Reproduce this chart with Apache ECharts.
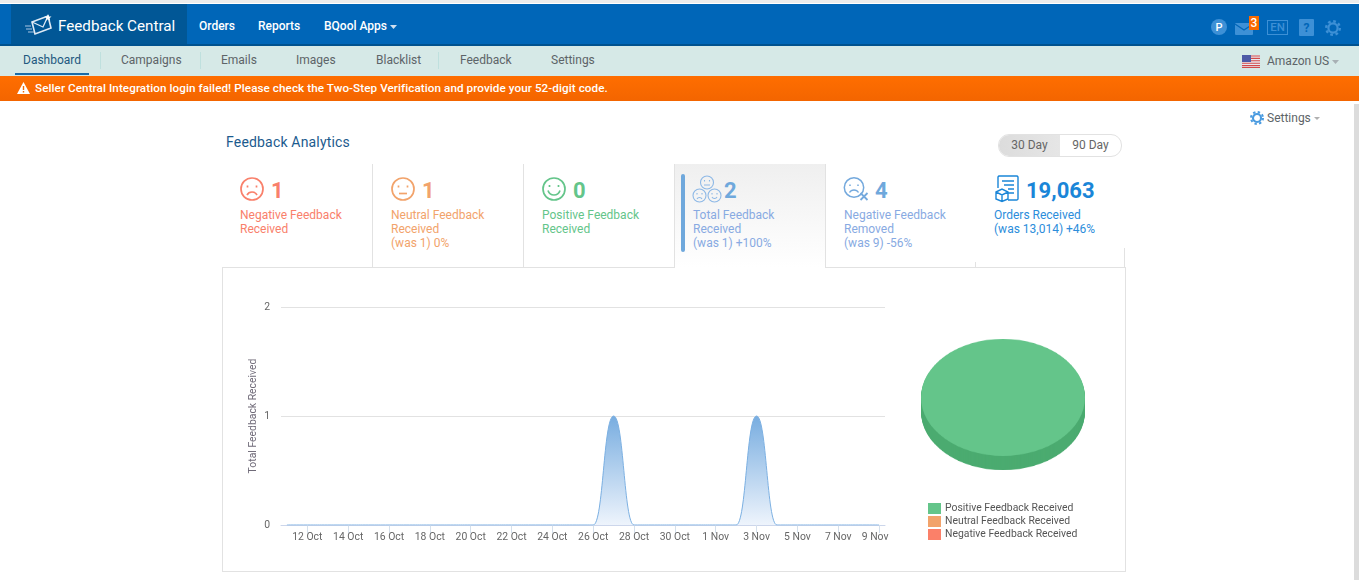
<!DOCTYPE html>
<html><head><meta charset="utf-8">
<script src="https://cdn.jsdelivr.net/npm/echarts@6/dist/echarts.min.js"></script>
<style>
html,body{margin:0;padding:0;width:1359px;height:580px;overflow:hidden;background:#fff;font-family:Roboto,sans-serif;}
.a{position:absolute;white-space:nowrap;}
#chart{position:absolute;left:0;top:0;width:1359px;height:580px;}
#pie{position:absolute;left:913px;top:336px;width:180px;height:200px;transform-origin:0 0;transform:scaleY(0.7134);}
.nav{color:#fff;font-size:12px;font-weight:500;top:19px;line-height:15px;}
.sub{color:#5d6468;font-size:12px;top:53px;line-height:14px;}
.sep{position:absolute;width:1px;top:52px;height:17px;background:#bfe0de;}
.vl{position:absolute;width:1px;background:#e2e2e2;}
.hl{position:absolute;height:1px;background:#e2e2e2;}
.num{font-size:22px;font-weight:700;top:178px;line-height:26px;}
.lab{font-size:12px;line-height:14px;top:208px;white-space:nowrap;position:absolute;}
svg{position:absolute;overflow:visible;}
</style></head><body>
<div class="a" style="left:0;top:0;width:1359px;height:3px;background:#ececec"></div>
<div class="a" style="left:0;top:4px;width:1359px;height:40px;background:#0066b8"></div>
<div class="a" style="left:0;top:44px;width:1359px;height:2px;background:#00528f"></div>
<div class="a" style="left:0;top:46px;width:1359px;height:30px;background:#d6e9e7"></div>
<div class="a" style="left:11px;top:4px;width:176px;height:40px;background:#015796"></div>
<svg style="left:24px;top:13px" width="30" height="24" viewBox="0 0 30 24"><path d="M8 9 L24 3 L27 15 L11 21 Z" fill="none" stroke="#dfeaf5" stroke-width="1.6"/><path d="M8 9 L19 14 L24 3" fill="none" stroke="#dfeaf5" stroke-width="1.3"/><path d="M1 13h6M2 16h6M4 19h6" stroke="#a9c6e2" stroke-width="1.2"/><path d="M24 1 l1 2.4 2.5.2-2 1.6.7 2.5-2.2-1.4-2.2 1.4.7-2.5-2-1.6 2.5-.2z" fill="#fff"/></svg>
<div class="a" style="left:58px;top:16px;color:#fff;font-size:15.2px;line-height:20px;">Feedback Central</div>
<div class="a nav" style="left:199px">Orders</div>
<div class="a nav" style="left:258px">Reports</div>
<div class="a nav" style="left:324px">BQool Apps</div>
<svg style="left:390px;top:25px" width="7" height="4"><path d="M0 0h7L3.5 4z" fill="#cfe0f0"/></svg>
<svg style="left:1211px;top:19px" width="16" height="16"><circle cx="8" cy="8" r="8" fill="#3d90d6"/><text x="8" y="12" font-size="11" font-weight="500" font-family="Roboto" fill="#fff" text-anchor="middle">P</text></svg>
<svg style="left:1235px;top:23px" width="18" height="12"><rect width="18" height="12" rx="1" fill="#3d90d6"/><path d="M0 1 L9 7 L18 1" fill="none" stroke="#0066b8" stroke-width="1.2"/></svg>
<div class="a" style="left:1249px;top:16px;width:10px;height:14px;background:#f96a00;color:#fff;font-size:12px;line-height:14px;text-align:center;font-weight:500;">3</div>
<div class="a" style="left:1267px;top:20px;width:19px;height:13px;border:1px solid #3d90d6;color:#3d90d6;font-size:11.5px;line-height:13px;text-align:center;font-weight:500;">EN</div>
<svg style="left:1299px;top:19px" width="15" height="17"><rect width="15" height="17" rx="1" fill="#3d90d6"/><text x="7.5" y="13" font-size="12" font-weight="700" font-family="Roboto" fill="#0066b8" text-anchor="middle">?</text></svg>
<svg style="left:1325px;top:20px" width="16" height="16" viewBox="0 0 16 16"><circle cx="8" cy="8" r="4.6" fill="none" stroke="#3d90d6" stroke-width="2.2"/><circle cx="8" cy="8" r="6.8" fill="none" stroke="#3d90d6" stroke-width="2.4" stroke-dasharray="2.7 2.64"/></svg>

<div class="a sub" style="left:23px;color:#22587f">Dashboard</div>
<div class="a" style="left:15px;top:73px;width:74px;height:2px;background:#1a6ba8"></div>
<div class="sep" style="left:100px"></div>
<div class="a sub" style="left:121px">Campaigns</div>
<div class="sep" style="left:200px"></div>
<div class="a sub" style="left:221px">Emails</div>
<div class="a sub" style="left:296px">Images</div>
<div class="a sub" style="left:376px">Blacklist</div>
<div class="sep" style="left:438px"></div>
<div class="a sub" style="left:460px">Feedback</div>
<div class="a sub" style="left:551px">Settings</div>
<svg style="left:1242px;top:55px" width="18" height="13"><rect width="18" height="13" fill="#e8e8ee"/><path d="M0 1h18M0 3.4h18M0 5.8h18M0 8.2h18M0 10.6h18M0 12.5h18" stroke="#d24a4a" stroke-width="1.1"/><rect width="9" height="7" fill="#4d5aa6"/></svg>
<div class="a sub" style="left:1267px;top:54px">Amazon US</div>
<svg style="left:1332px;top:60px" width="7" height="4"><path d="M0 0h7L3.5 4z" fill="#a8b0b4"/></svg>

<div class="a" style="left:0;top:76px;width:1359px;height:25px;background:linear-gradient(#ff6e00,#f36500)"></div>
<svg style="left:17px;top:82px" width="13" height="12"><path d="M6.5 0L13 12H0z" fill="#fff"/><path d="M6.5 4v4M6.5 9v1.5" stroke="#f36a00" stroke-width="1.4"/></svg>
<div class="a" style="left:35px;top:81px;color:#fff;font-size:11.7px;font-weight:500;line-height:15px;letter-spacing:.065px;">Seller Central Integration login failed! Please check the Two-Step Verification and provide your 52-digit code.</div>

<div class="a" style="left:1354px;top:104px;width:5px;height:476px;background:#dcdcdc"></div>
<svg style="left:1250px;top:111px" width="14" height="14" viewBox="0 0 16 16"><circle cx="8" cy="8" r="4.6" fill="none" stroke="#4a9be0" stroke-width="2.4"/><circle cx="8" cy="8" r="6.8" fill="none" stroke="#4a9be0" stroke-width="2.4" stroke-dasharray="2.7 2.64"/></svg>
<div class="a sub" style="left:1267px;top:111px">Settings</div>
<svg style="left:1314px;top:117px" width="6" height="3"><path d="M0 0h6L3 3z" fill="#b0b0b0"/></svg>

<div class="a" style="left:226px;top:134px;color:#1c5b8e;font-size:14px;line-height:17px;letter-spacing:.18px;">Feedback Analytics</div>
<div class="a" style="left:998px;top:134px;width:122px;height:21px;border:1px solid #e2e2e2;border-radius:11px;overflow:hidden;color:#666;font-size:12px;line-height:21px;">
 <span class="a" style="left:0;top:0;width:61px;height:21px;background:linear-gradient(90deg,#dcdcdc,#e6e6e6);text-align:center;">30 Day</span>
 <span class="a" style="left:61px;top:0;width:61px;height:21px;text-align:center;">90 Day</span>
</div>

<div class="a" style="left:675px;top:164px;width:150px;height:103px;background:linear-gradient(#efefef,#fff)"></div>
<div class="a" style="left:681px;top:174px;width:4px;height:78px;border-radius:2px;background:#6fa8dc"></div>
<div class="vl" style="left:372px;top:164px;height:103px"></div>
<div class="vl" style="left:523px;top:164px;height:103px"></div>
<div class="vl" style="left:674px;top:164px;height:103px"></div>
<div class="vl" style="left:825px;top:164px;height:103px"></div>
<div class="vl" style="left:975px;top:262px;height:5px"></div>
<div class="vl" style="left:1124px;top:248px;height:19px"></div>
<div class="hl" style="left:222px;top:267px;width:453px"></div>
<div class="hl" style="left:825px;top:267px;width:301px"></div>
<div class="vl" style="left:222px;top:267px;height:305px"></div>
<div class="vl" style="left:1125px;top:267px;height:305px"></div>
<div class="hl" style="left:222px;top:571px;width:904px"></div>

<svg style="left:240px;top:177px" width="24" height="24" viewBox="0 0 24 24" fill="none" stroke="#f9806b" stroke-width="1.7"><circle cx="12" cy="12" r="11"/><path d="M7 18c2-4 8-4 10 0"/><path d="M7.5 8.5v2M16.5 8.5v2"/></svg>
<div class="a num" style="left:271px;color:#f9806b">1</div>
<div class="lab" style="left:240px;color:#f9806b">Negative Feedback<br>Received</div>

<svg style="left:391px;top:177px" width="24" height="24" viewBox="0 0 24 24" fill="none" stroke="#f2a36b" stroke-width="1.7"><circle cx="12" cy="12" r="11"/><path d="M8 16.5h8"/><path d="M7.5 8.5v2M16.5 8.5v2"/></svg>
<div class="a num" style="left:422px;color:#f2a36b">1</div>
<div class="lab" style="left:391px;color:#f2a36b">Neutral Feedback<br>Received<br>(was 1) 0%</div>

<svg style="left:542px;top:177px" width="24" height="24" viewBox="0 0 24 24" fill="none" stroke="#64c58a" stroke-width="1.7"><circle cx="12" cy="12" r="11"/><path d="M6 13.5c2 6 10 6 12 0"/><path d="M7.5 8v2M16.5 8v2"/></svg>
<div class="a num" style="left:573px;color:#64c58a">0</div>
<div class="lab" style="left:542px;color:#64c58a">Positive Feedback<br>Received</div>

<svg style="left:692px;top:175px" width="30" height="28" viewBox="0 0 30 28" fill="none" stroke="#8db8e6" stroke-width="1.1"><circle cx="15" cy="7.5" r="6.5"/><circle cx="7.5" cy="20.5" r="6.5"/><circle cx="22.5" cy="20.5" r="6.5"/><path d="M12 10h6M5 24c1-2 4-2 5 0M20 22c1 2 4 2 5 0"/><path d="M12.5 5v1.5M17.5 5v1.5M5 18v1.5M10 18v1.5M20 18v1.5M25 18v1.5"/></svg>
<div class="a num" style="left:724px;color:#6fa8dc">2</div>
<div class="lab" style="left:693px;color:#88aae2">Total Feedback<br>Received<br>(was 1) +100%</div>

<svg style="left:843px;top:177px" width="28" height="24" viewBox="0 0 28 24" fill="none" stroke="#74a9dd" stroke-width="1.5"><circle cx="11" cy="10.5" r="9.7"/><path d="M6.5 15.5c2-3.5 7-3.5 9 0"/><path d="M7 7.5v1.5M15 7.5v1.5"/><path d="M17.5 16l7 7M24.5 16l-7 7" stroke-width="1.8"/></svg>
<div class="a num" style="left:875px;color:#6fa8dc">4</div>
<div class="lab" style="left:844px;color:#88aae2">Negative Feedback<br>Removed<br>(was 9) -56%</div>

<svg style="left:995px;top:175px" width="24" height="27" viewBox="0 0 24 27" fill="none" stroke="#1a86d8" stroke-width="1.4"><path d="M3 13V2a1.5 1.5 0 0 1 1.5-1h17A1.5 1.5 0 0 1 23 2v22a1.5 1.5 0 0 1-1.5 1H13"/><path d="M7 6h12M9 10h10M13 14h6M13 18h6"/><path d="M1 17l6-3 6 3v7l-6 2.5L1 24zM1 17l6 3 6-3M7 20v6"/></svg>
<div class="a" style="left:1026px;top:178px;font-size:22px;font-weight:700;line-height:26px;color:#1a86d8;">19,063</div>
<div class="lab" style="left:994px;color:#2c8ddb">Orders Received<br>(was 13,014) +46%</div>

<div id="chart"></div>
<div id="pie"></div>
<script>
var dates = ['11 Oct','12 Oct','13 Oct','14 Oct','15 Oct','16 Oct','17 Oct','18 Oct','19 Oct','20 Oct','21 Oct','22 Oct','23 Oct','24 Oct','25 Oct','26 Oct','27 Oct','28 Oct','29 Oct','30 Oct','31 Oct','1 Nov','2 Nov','3 Nov','4 Nov','5 Nov','6 Nov','7 Nov','8 Nov','9 Nov'];
var totalFeedback = [0,0,0,0,0,0,0,0,0,0,0,0,0,0,0,0,1,0,0,0,0,0,0,1,0,0,0,0,0,0];
var labelledDays = [1,3,5,7,9,11,13,15,17,19,21,23,25,27,29];
var yTicks = [0,1,2];
var pieNames = ['Positive Feedback Received','Neutral Feedback Received','Negative Feedback Received'];
var pieValues = [2,0,0];
var pieColors = ['#64c58a','#f2a36b','#fb8069'];
var pieSideColor = '#4bab70';

var pieData = pieNames.map(function(n,i){return {name:n,value:pieValues[i],itemStyle:{color:pieColors[i]}};});
var main = echarts.init(document.getElementById('chart'),null,{renderer:'canvas'});
main.setOption({
  animation:false,
  backgroundColor:'transparent',
  textStyle:{fontFamily:'Roboto'},
  grid:{left:281,right:474,top:307,bottom:55},
  legend:{orient:'vertical',left:928,top:503,padding:0,itemWidth:13,itemHeight:11,itemGap:2,icon:'rect',selectedMode:false,
    data:pieNames,textStyle:{color:'#555',fontSize:10.4,fontFamily:'Roboto',padding:[0,0,0,-1]}},
  xAxis:{type:'value',min:-0.29,max:29.29,
    axisLine:{show:true,onZero:false,lineStyle:{color:'#ccd6eb'}},
    axisTick:{show:true,length:8,customValues:labelledDays,lineStyle:{color:'#d5e0ec'}},
    splitLine:{show:false},
    axisLabel:{customValues:labelledDays,margin:7,color:'#666',fontSize:10.4,
      formatter:function(v){return v===29?'{last|'+dates[v]+'}':dates[v];},
      rich:{last:{color:'#666',fontSize:10.4,padding:[0,8,0,0]}}}},
  yAxis:{type:'value',min:0,max:2,interval:1,
    name:'Total Feedback Received',nameLocation:'middle',nameGap:23,nameRotate:90,
    nameTextStyle:{color:'#6f6a78',fontSize:10.4},
    axisLine:{show:false},axisTick:{show:false},
    splitLine:{lineStyle:{color:'#e2e2e2'}},
    axisLabel:{margin:11,color:'#666',fontSize:10.4,padding:[0,0,4,0],
      formatter:function(v){return yTicks.indexOf(v)>=0?String(v):'';}}},
  series:[
    {type:'line',name:'Total Feedback Received',smooth:0.5,smoothMonotone:'x',showSymbol:false,silent:true,
     data:totalFeedback.map(function(v,i){return [i,v];}),
     lineStyle:{color:'#7cb0e2',width:1},
     areaStyle:{opacity:1,color:new echarts.graphic.LinearGradient(0,0,0,1,[{offset:0,color:'#78ade0'},{offset:1,color:'#eef4fc'}])}},
    {type:'pie',radius:[0,0],center:[1003,400],silent:true,label:{show:false},labelLine:{show:false},data:pieData}
  ]
});

var pie = echarts.init(document.getElementById('pie'),null,{renderer:'canvas'});
var pieSeries = [];
for (var d=20;d>=0;d--){
  pieSeries.push({type:'pie',radius:[0,82],center:[90,86+d],silent:true,z:20-d,label:{show:false},labelLine:{show:false},
    data:pieNames.map(function(n,i){return {name:n,value:pieValues[i],itemStyle:{color:d===0?pieColors[i]:pieSideColor}};})});
}
pie.setOption({animation:false,backgroundColor:'transparent',series:pieSeries});
</script>
</body></html>
